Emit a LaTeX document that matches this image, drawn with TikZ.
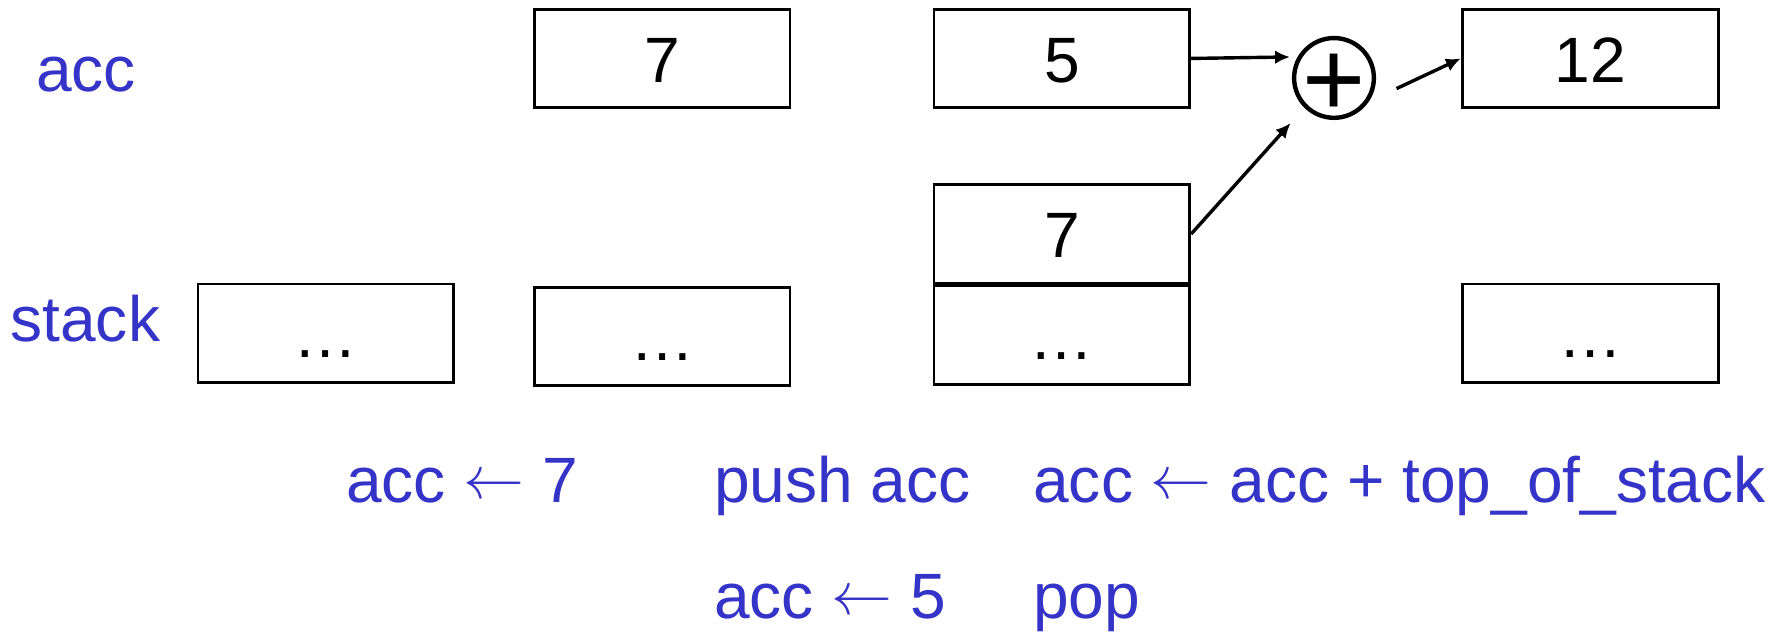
\documentclass[tikz,border=0pt]{standalone}
\usepackage{fontspec}
\setmainfont{Liberation Sans}
\usetikzlibrary{arrows.meta}
\definecolor{regblue}{RGB}{52,52,200}
\newcommand{\getsarrow}{\raisebox{1pt}{\scalebox{0.88}{$\leftarrow$}}}
\tikzset{
	cell/.style={draw, line width=0.7pt, minimum width=2.245cm, minimum height=0.863cm, inner sep=0pt, text height=0.42cm, text depth=0pt},
	lbl/.style={text=regblue, anchor=base west, inner sep=0pt},
	flow/.style={->, line width=0.85pt},
}
\begin{document}
\begin{tikzpicture}[>={Latex[length=1.3mm,width=1.2mm]}, font=\fontsize{16}{19}\selectfont]
	\useasboundingbox (0,0) rectangle (15.68,5.55);
	% Register names
	\node[lbl] (acclbl) at (0.31,4.75) {acc};
	\node[lbl] (stacklbl) at (0.085,2.55) {stack};
	
	% Cells
	\node[cell] (s1) at (2.86,2.627) {…};
	\node[cell] (a2) at (5.81,5.037) {7};
	\node[cell] (s2) at (5.81,2.596) {…};
	\node[cell] (a3) at (9.317,5.037) {5};
	\node[cell] (s3) at (9.317,2.609) {…};
	\node[cell, anchor=south] (t3) at (s3.north) {7};
	\node[cell] (a4) at (13.953,5.037) {12};
	\node[cell] (s4) at (13.953,2.627) {…};
	
	% Adder
	\node[circle, draw, line width=1.1pt, minimum size=0.70cm, inner sep=0pt, outer sep=0pt] (plus) at (11.705,4.866) {};
	\node[font=\fontsize{27}{28}\selectfont, inner sep=0pt, text height=0.67cm, text depth=0pt] (plusglyph) at (plus.center) {+};
	
	% Edges
	\draw[flow, shorten >=0.09cm] (a3.east) -- (plus.148);
	\draw[flow, shorten >=0.2cm] (t3.east) -- (plus.225);
	\draw[flow, shorten <=0.31cm] (plus.-40) -- (a4.west);
	
	% Instructions
	\node[lbl] (op1) at (3.03,1.14) {acc \getsarrow{} 7};
	\node[lbl] (op2) at (6.26,1.14) {push acc};
	\node[lbl] (op3) at (9.06,1.14) {acc \getsarrow{} acc + top\_of\_stack};
	\node[lbl] (op4) at (6.26,0.12) {acc \getsarrow{} 5};
	\node[lbl] (op5) at (9.06,0.12) {pop};
\end{tikzpicture}
\end{document}
